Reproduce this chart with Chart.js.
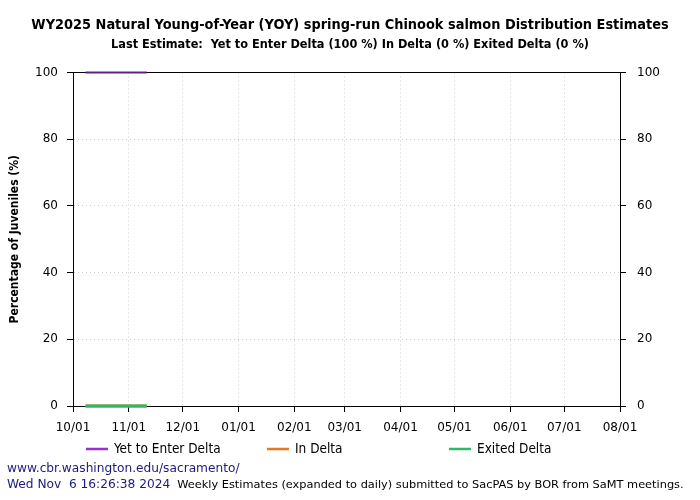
<!DOCTYPE html>
<html><head><meta charset="utf-8">
<script src="https://cdn.jsdelivr.net/npm/chart.js@4"></script>
<style>html,body{margin:0;padding:0;background:#fff}#wrap{width:700px;height:500px}</style>
</head><body><div id="wrap"><canvas id="c" width="700" height="500"></canvas></div>
<script>
// ---- data ----
const estimateDates = ['2024-10-08','2024-10-15','2024-10-22','2024-10-29','2024-11-05','2024-11-11'];
const yetToEnter = [100,100,100,100,100,100];
const inDelta = [0,0,0,0,0,0];
const exitedDelta = [0,0,0,0,0,0];
const seriesLabels = ['Yet to Enter Delta','In Delta','Exited Delta'];
const monthTickDates = ['2024-10-01','2024-11-01','2024-12-01','2025-01-01','2025-02-01','2025-03-01','2025-04-01','2025-05-01','2025-06-01','2025-07-01','2025-08-01'];
const monthTickLabels = ['10/01','11/01','12/01','01/01','02/01','03/01','04/01','05/01','06/01','07/01','08/01'];
const yTickValues = [0,20,40,60,80,100];
const titleText = 'WY2025 Natural Young-of-Year (YOY) spring-run Chinook salmon Distribution Estimates';
const subtitleText = 'Last Estimate:  Yet to Enter Delta (100 %) In Delta (0 %) Exited Delta (0 %)';
const yAxisTitle = 'Percentage of Juveniles (%)';
const footerUrl = 'www.cbr.washington.edu/sacramento/';
const footerDate = 'Wed Nov  6 16:26:38 2024';
const footerNote = 'Weekly Estimates (expanded to daily) submitted to SacPAS by BOR from SaMT meetings.';

// ---- helpers ----
const origin = Date.UTC(2024,9,1);
function dayOf(s){const [y,m,d]=s.split('-').map(Number);return (Date.UTC(y,m-1,d)-origin)/86400000;}
const pts = arr => estimateDates.map((d,i)=>({x:dayOf(d),y:arr[i]}));
const colors = ['#9a2fd8','#e8771f','#2fb86a'];
const lineColors = ['rgba(154,47,216,0.6)','#e8771f','#2fb86a'];
const condensed = '"DejaVu Sans Condensed", "DejaVu Sans", sans-serif';
const plain = '"DejaVu Sans", sans-serif';

const legendPlugin = {
  id:'customLegend',
  afterDraw(chart){
    const ctx=chart.ctx; ctx.save();
    const xs=[86,267,449], y=449;
    ctx.font='13.5px '+condensed; ctx.textBaseline='middle'; ctx.fillStyle='#000';
    chart.data.datasets.forEach((ds,i)=>{
      ctx.strokeStyle=colors[i]; ctx.lineWidth=2.5;
      ctx.beginPath(); ctx.moveTo(xs[i],y); ctx.lineTo(xs[i]+22,y); ctx.stroke();
      ctx.fillText(ds.label,xs[i]+28,y);
    });
    ctx.restore();
  }
};
const footerPlugin = {
  id:'footer',
  afterDraw(chart){
    const ctx=chart.ctx; ctx.save();
    ctx.textBaseline='middle'; ctx.textAlign='left';
    ctx.font='12.2px '+plain; ctx.fillStyle='#1a1a80';
    ctx.fillText(footerUrl,7,469);
    ctx.fillText(footerDate,7,485);
    const w=ctx.measureText(footerDate).width;
    ctx.font='11.35px '+plain; ctx.fillStyle='#000';
    ctx.fillText(footerNote,7+w+7,485);
    ctx.restore();
  }
};
const framePlugin = {
  id:'frame',
  beforeDatasetsDraw(chart){
    const a=chart.chartArea, ctx=chart.ctx; ctx.save();
    ctx.strokeStyle='#000'; ctx.lineWidth=1;
    ctx.strokeRect(Math.round(a.left)+0.5,Math.round(a.top)+0.5,Math.round(a.right-a.left),Math.round(a.bottom-a.top));
    ctx.restore();
  }
};

const gridCommon = {color:'#cfcfcf', tickColor:'#000', tickLength:6, tickBorderDash:[], lineWidth:1};
new Chart(document.getElementById('c'),{
  type:'line',
  data:{datasets:[
    {label:seriesLabels[0],data:pts(yetToEnter),order:2,borderColor:lineColors[0],backgroundColor:colors[0],borderWidth:3,pointRadius:0,fill:false,tension:0,clip:false},
    {label:seriesLabels[1],data:pts(inDelta),order:1,borderColor:lineColors[1],backgroundColor:colors[1],borderWidth:3,pointRadius:0,fill:false,tension:0,clip:false},
    {label:seriesLabels[2],data:pts(exitedDelta),order:0,borderColor:lineColors[2],backgroundColor:colors[2],borderWidth:3,pointRadius:0,fill:false,tension:0,clip:false}
  ]},
  options:{
    responsive:false, animation:false, devicePixelRatio:1,
    layout:{padding:{left:0,right:0,top:0,bottom:60}},
    plugins:{
      legend:{display:false}, tooltip:{enabled:false},
      title:{display:true,text:titleText,color:'#000',font:{family:condensed,size:14.4,weight:'bold'},padding:{top:17,bottom:3}},
      subtitle:{display:true,text:subtitleText,color:'#000',font:{family:condensed,size:12.6,weight:'bold'},padding:{top:0,bottom:20}}
    },
    scales:{
      x:{type:'linear',min:dayOf(monthTickDates[0]),max:dayOf(monthTickDates[monthTickDates.length-1]),
        afterBuildTicks(s){s.ticks=monthTickDates.map(d=>({value:dayOf(d)}));},
        afterFit(s){s.height=34;},
        ticks:{autoSkip:false,maxRotation:0,color:'#000',padding:9,font:{family:plain,size:12}},
        grid:gridCommon, border:{display:true,color:'#000',width:1,dash:[1,3]}
      },
      y:{position:'left',min:0,max:100,
        afterBuildTicks(s){s.ticks=yTickValues.map(v=>({value:v}));},
        afterFit(s){s.width=73;},
        ticks:{color:'#000',padding:9,font:{family:plain,size:12}},
        title:{display:true,text:yAxisTitle,color:'#000',font:{family:condensed,size:12,weight:'bold'},padding:{top:8,bottom:0}},
        grid:gridCommon, border:{display:true,color:'#000',width:1,dash:[1,3]}
      },
      y2:{position:'right',min:0,max:100,
        afterBuildTicks(s){s.ticks=yTickValues.map(v=>({value:v}));},
        afterFit(s){s.width=80;},
        ticks:{color:'#000',padding:11,font:{family:plain,size:12}},
        grid:Object.assign({},gridCommon,{drawOnChartArea:false}), border:{display:true,color:'#000',width:1}
      }
    }
  },
  plugins:[framePlugin,legendPlugin,footerPlugin]
});
// x tick labels from the label list
const ch = Chart.getChart('c');
ch.options.scales.x.ticks.callback = function(v){const i=monthTickDates.findIndex(d=>dayOf(d)===v);return i>=0?monthTickLabels[i]:'';};
ch.update('none');
</script></body></html>
